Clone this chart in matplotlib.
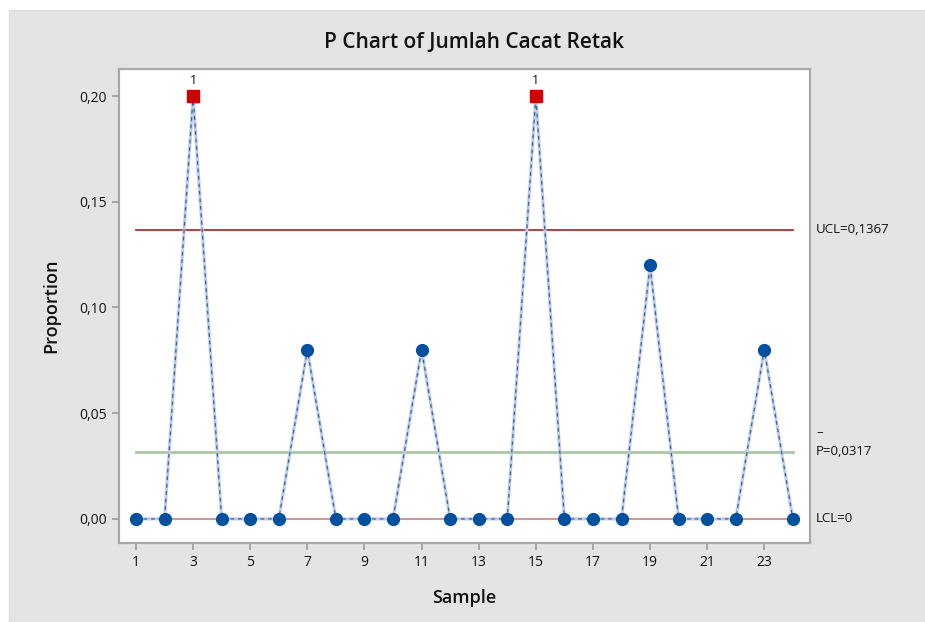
import matplotlib.pyplot as plt
from matplotlib.patches import Rectangle

# Data
samples = list(range(1, 25))
proportion = [0, 0, 0.20, 0, 0, 0, 0.08, 0, 0, 0, 0.08, 0, 0, 0, 0.20, 0, 0, 0, 0.12, 0, 0, 0, 0.08, 0]
ucl = 0.1367
center = 0.0317
lcl = 0.0
x_ticks = list(range(1, 24, 2))
y_ticks = [0.0, 0.05, 0.10, 0.15, 0.20]
y_tick_labels = ['0,00', '0,05', '0,10', '0,15', '0,20']

plt.rcParams['font.family'] = ['Open Sans', 'DejaVu Sans']

fig = plt.figure(figsize=(9.25, 6.22), dpi=100)
fig.patch.set_facecolor('white')

# gray panel behind the chart
fig.patches.append(Rectangle((9 / 925, 0), 1, 1 - 10 / 622, transform=fig.transFigure,
                             facecolor='#e4e4e4', edgecolor='#dcdcdc', lw=1, zorder=-10))

ax = fig.add_axes([119 / 925, 1 - 543 / 622, 691 / 925, 474 / 622])
ax.set_facecolor('white')

# Control limits
ax.plot([samples[0], samples[-1]], [ucl, ucl], color='#b03030', lw=1.3, zorder=2)
ax.plot([samples[0], samples[-1]], [center, center], color='#a8c8a0', lw=2, zorder=2)
ax.plot([samples[0], samples[-1]], [lcl, lcl], color='#d09898', lw=1.5, zorder=2)

# Proportion line
ax.plot(samples, proportion, color='#c2cbe4', lw=2.2, zorder=3)
ax.plot(samples, proportion, color='#2a64b4', lw=0.9, dashes=(3, 3), zorder=4)

# points in / out of control
in_x = [s for s, p in zip(samples, proportion) if p <= ucl]
in_y = [p for p in proportion if p <= ucl]
out_x = [s for s, p in zip(samples, proportion) if p > ucl]
out_y = [p for p in proportion if p > ucl]
ax.plot(in_x, in_y, 'o', color='#0050a0', ms=8.5, zorder=5)
ax.plot(out_x, out_y, 's', color='#d00000', ms=8, zorder=5)
for x, y in zip(out_x, out_y):
    ax.text(x, y + 0.0072, '1', ha='center', va='center', fontsize=9, color='#111111')

ax.set_xlim(0.405, 24.6)
ax.set_ylim(-0.0114, 0.2128)
ax.set_xticks(x_ticks)
ax.set_yticks(y_ticks)
ax.set_yticklabels(y_tick_labels)

for sp in ax.spines.values():
    sp.set_color('#a8a8a8')
    sp.set_linewidth(1.6)
ax.tick_params(colors='#9a9a9a', labelcolor='#111111', labelsize=10, length=5, width=1.2)

# limit labels
trans = ax.get_yaxis_transform()
ax.text(1.009, ucl, 'UCL=0,1367', transform=trans, ha='left', va='center', fontsize=9.5, color='#111111')
ax.text(1.009, center + 0.009, '–', transform=trans, ha='left', va='center', fontsize=9.5, color='#111111')
ax.text(1.009, center, 'P=0,0317', transform=trans, ha='left', va='center', fontsize=9.5, color='#111111')
ax.text(1.009, lcl, 'LCL=0', transform=trans, ha='left', va='center', fontsize=9.5, color='#111111')

fig.text(474 / 925, 1 - 43 / 622, 'P Chart of Jumlah Cacat Retak', ha='center', va='center',
         fontsize=15, fontweight='semibold', color='#111111')
ax.set_xlabel('Sample', fontsize=13, fontweight='semibold', color='#111111', labelpad=14)
ax.set_ylabel('Proportion', fontsize=13, fontweight='semibold', color='#111111', labelpad=14)

fig.savefig('out.png', dpi=100, facecolor=fig.get_facecolor())
